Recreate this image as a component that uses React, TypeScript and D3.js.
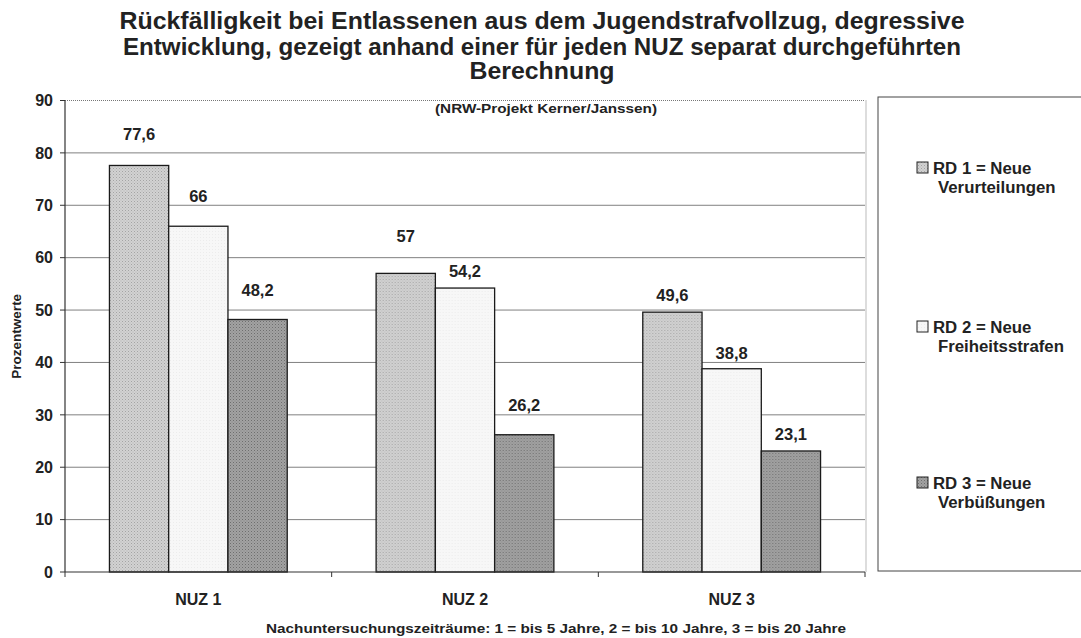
import React from 'react';
import * as d3 from 'd3';

// values
const categories = ['NUZ 1', 'NUZ 2', 'NUZ 3'];
const seriesNames = ['RD 1', 'RD 2', 'RD 3'];
const legendLines = [
  ['RD 1 = Neue', 'Verurteilungen'],
  ['RD 2 = Neue', 'Freiheitsstrafen'],
  ['RD 3 = Neue', 'Verbüßungen'],
];
const rd1 = [77.6, 57, 49.6];
const rd2 = [66, 54.2, 38.8];
const rd3 = [48.2, 26.2, 23.1];
const yTicks = [0, 10, 20, 30, 40, 50, 60, 70, 80, 90];
// label lift above each bar in px (labels were hand-placed in the original)
const labelLift = [
  [31, 30, 29],
  [37, 17, 30],
  [17, 16, 17],
];

const W = 1081;
const H = 638;
const plot = { left: 65, right: 865, top: 100.5, bottom: 572 };
const font = '"Liberation Sans", Arial, sans-serif';
const fills = ['url(#pat1)', 'url(#pat2)', 'url(#pat3)'];

export default function App() {
  const series = [rd1, rd2, rd3];
  const x = d3.scaleBand<string>().domain(categories).range([plot.left, plot.right]);
  const xs = d3.scaleBand<string>().domain(seriesNames).range([0, x.bandwidth()]).paddingOuter(0.75);
  const y = d3.scaleLinear().domain([0, 90]).range([plot.bottom, plot.top]);

  const fmt = (v: number) => String(v).replace('.', ',');

  return (
    <div style={{ position: 'absolute', left: 0, top: 0 }}>
      <svg width={W} height={H} style={{ display: 'block', background: '#fff' }} fontFamily={font}>
        <defs>
          <pattern id="pat1" width="3" height="3" patternUnits="userSpaceOnUse">
            <rect width="3" height="3" fill="#d2d2d2" />
            <rect width="1" height="1" fill="#a4a4a4" />
            <rect x="1.5" y="1.5" width="1" height="1" fill="#b4b4b4" />
          </pattern>
          <pattern id="pat2" width="3" height="3" patternUnits="userSpaceOnUse">
            <rect width="3" height="3" fill="#f7f7f7" />
            <rect width="1" height="1" fill="#ececec" />
          </pattern>
          <pattern id="pat3" width="3" height="3" patternUnits="userSpaceOnUse">
            <rect width="3" height="3" fill="#a2a2a2" />
            <rect width="1" height="1" fill="#6e6e6e" />
            <rect x="1.5" y="1.5" width="1" height="1" fill="#848484" />
          </pattern>
        </defs>

        {/* title */}
        <g fontWeight="bold" fontSize={23.5} textAnchor="middle" fill="#222">
          <text x={542} y={29} textLength={845} lengthAdjust="spacingAndGlyphs">Rückfälligkeit bei Entlassenen aus dem Jugendstrafvollzug, degressive</text>
          <text x={542} y={55} textLength={838} lengthAdjust="spacingAndGlyphs">Entwicklung, gezeigt anhand einer für jeden NUZ separat durchgeführten</text>
          <text x={542} y={79} textLength={145} lengthAdjust="spacingAndGlyphs">Berechnung</text>
        </g>
        <text x={546} y={113} fontSize={13.5} fontWeight="bold" textAnchor="middle" fill="#222" textLength={222} lengthAdjust="spacingAndGlyphs">
          (NRW-Projekt Kerner/Janssen)
        </text>

        {/* plot area border */}
        <line x1={plot.left} x2={plot.right} y1={plot.top} y2={plot.top} stroke="#777" strokeDasharray="1,1" />
        <line x1={plot.right + 1} x2={plot.right + 1} y1={plot.top} y2={plot.bottom} stroke="#777" strokeDasharray="1,1" />

        {/* grid + y axis */}
        {yTicks.map(t => (
          <g key={t}>
            {t > 0 && t < 90 && (
              <line x1={plot.left} x2={plot.right} y1={y(t)} y2={y(t)} stroke="#808080" strokeWidth={1} />
            )}
            <line x1={plot.left - 5} x2={plot.left} y1={y(t)} y2={y(t)} stroke="#333" />
            <text x={53} y={y(t)} dy="0.36em" textAnchor="end" fontSize={16} fontWeight="bold" fill="#222">{t}</text>
          </g>
        ))}
        <line x1={plot.left} x2={plot.left} y1={plot.top} y2={plot.bottom} stroke="#333" strokeWidth={1.2} />
        <text transform={`translate(21,${(plot.top + plot.bottom) / 2}) rotate(-90)`} textAnchor="middle" fontSize={13.5} fontWeight="bold" fill="#222">
          Prozentwerte
        </text>

        {/* bars */}
        {categories.map((c, ci) => (
          <g key={c} transform={`translate(${x(c)},0)`}>
            {series.map((s, si) => (
              <rect key={si} x={xs(seriesNames[si])} y={y(s[ci])} width={xs.bandwidth()} height={y(0) - y(s[ci])}
                fill={fills[si]} stroke="#1a1a1a" strokeWidth={1.3} />
            ))}
            {series.map((s, si) => (
              <text key={'l' + si} x={(xs(seriesNames[si]) ?? 0) + xs.bandwidth() / 2} y={y(s[ci]) - labelLift[ci][si]}
                dy="0.36em" textAnchor="middle" fontSize={16.5} fontWeight="bold" fill="#222">{fmt(s[ci])}</text>
            ))}
          </g>
        ))}

        {/* x axis */}
        <line x1={plot.left} x2={plot.right} y1={plot.bottom} y2={plot.bottom} stroke="#333" strokeWidth={1.2} />
        {[...categories.map(c => x(c) ?? 0), plot.right].map((px, i) => (
          <line key={i} x1={px} x2={px} y1={plot.bottom} y2={plot.bottom + 5} stroke="#333" />
        ))}
        {categories.map(c => (
          <text key={c} x={(x(c) ?? 0) + x.bandwidth() / 2} y={605} textAnchor="middle" fontSize={16} fontWeight="bold" fill="#222">{c}</text>
        ))}
        <text x={556} y={633} textAnchor="middle" fontSize={13.5} fontWeight="bold" fill="#222" textLength={580} lengthAdjust="spacingAndGlyphs">
          Nachuntersuchungszeiträume: 1 = bis 5 Jahre, 2 = bis 10 Jahre, 3 = bis 20 Jahre
        </text>

        {/* legend */}
        <rect x={878} y={97} width={W - 878 + 5} height={474} fill="#fff" stroke="#444" strokeWidth={1} />
        {legendLines.map((lines, i) => {
          const ly = [168, 327, 483][i];
          return (
            <g key={i}>
              <rect x={917} y={ly - 6} width={11} height={11} fill={fills[i]} stroke="#222" strokeWidth={1} />
              <text x={933} y={ly} dy="0.36em" fontSize={16.8} fontWeight="bold" fill="#222">{lines[0]}</text>
              <text x={938} y={ly + 19} dy="0.36em" fontSize={16.8} fontWeight="bold" fill="#222">{lines[1]}</text>
            </g>
          );
        })}
      </svg>
    </div>
  );
}
